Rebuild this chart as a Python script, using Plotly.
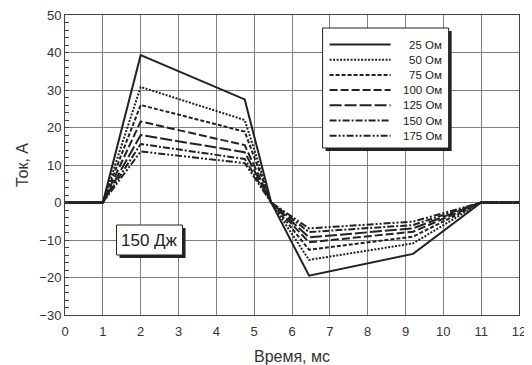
import plotly.graph_objects as go

time_ms = [0, 1, 2, 4.75, 5.45, 6.45, 9.2, 11, 12]
names = ["25 Ом", "50 Ом", "75 Ом", "100 Ом", "125 Ом", "150 Ом", "175 Ом"]
i25 = [0, 0, 39.3, 27.5, 0, -19.5, -13.7, 0, 0]
i50 = [0, 0, 30.8, 22.0, 0, -15.3, -10.9, 0, 0]
i75 = [0, 0, 26.0, 18.9, 0, -12.6, -9.1, 0, 0]
i100 = [0, 0, 21.6, 15.3, 0, -10.6, -7.8, 0, 0]
i125 = [0, 0, 18.0, 13.4, 0, -9.3, -6.9, 0, 0]
i150 = [0, 0, 15.6, 11.6, 0, -7.9, -6.0, 0, 0]
i175 = [0, 0, 13.6, 10.5, 0, -6.9, -5.1, 0, 0]
series = [i25, i50, i75, i100, i125, i150, i175]
x_ticks = list(range(0, 13))
y_ticks = list(range(-30, 51, 10))

dashes = ["solid", "2px,1.5px", "4px,2px", "8px,3px", "12px,3px",
          "7px,2px,2px,2px", "7px,2px,2px,2px,2px,2px"]
INK = "#222222"

fig = go.Figure()
for name, ys, d in zip(names, series, dashes):
    fig.add_trace(go.Scatter(x=time_ms, y=ys, mode="lines", name=name,
                             showlegend=False,
                             line=dict(color=INK, width=2, dash=d)))

# page-pixel -> data coordinate helpers (for decoration placement only)
def px2x(p):
    return (p - 65.5) / 37.82

def py2y(p):
    return 50 - (p - 15) / 3.75

shapes = []
annotations = []
# legend box with shadow
shapes.append(dict(type="rect", xref="x", yref="y",
                   x0=px2x(326), x1=px2x(452), y0=py2y(31), y1=py2y(151),
                   fillcolor=INK, line=dict(width=0), layer="above"))
shapes.append(dict(type="rect", xref="x", yref="y",
                   x0=px2x(323), x1=px2x(449), y0=py2y(28), y1=py2y(148),
                   fillcolor="white", line=dict(color=INK, width=1), layer="above"))
row_y = 44.5
for name, d in zip(names, dashes):
    shapes.append(dict(type="line", xref="x", yref="y",
                       x0=px2x(330), x1=px2x(391), y0=py2y(row_y), y1=py2y(row_y),
                       line=dict(color=INK, width=2, dash=d), layer="above"))
    annotations.append(dict(x=px2x(444), y=py2y(row_y), xref="x", yref="y",
                            text=name, showarrow=False, xanchor="right", yanchor="middle",
                            font=dict(size=11.5, color=INK)))
    row_y += 15.2
# label box with shadow
shapes.append(dict(type="rect", xref="x", yref="y",
                   x0=px2x(120), x1=px2x(186), y0=py2y(228), y1=py2y(258),
                   fillcolor=INK, line=dict(width=0), layer="above"))
shapes.append(dict(type="rect", xref="x", yref="y",
                   x0=px2x(117), x1=px2x(183), y0=py2y(225), y1=py2y(255),
                   fillcolor="white", line=dict(color=INK, width=1), layer="above"))
annotations.append(dict(x=px2x(150), y=py2y(240.5), xref="x", yref="y",
                        text="150 Дж", showarrow=False,
                        font=dict(size=17, color=INK)))

# body has an 8px default margin: the figure is offset by (8, 8) on the page
fig.update_layout(
    width=524, height=357,
    margin=dict(l=57, r=13, t=7, b=50, autoexpand=False),
    paper_bgcolor="white", plot_bgcolor="white",
    font=dict(family="Liberation Sans, Arial, sans-serif", size=13, color="#333333"),
    showlegend=False,
    shapes=shapes,
    annotations=annotations,
    xaxis=dict(range=[0, 12], tickvals=x_ticks, ticks="", showgrid=True,
               gridcolor="#808080", gridwidth=1, zeroline=False, automargin=False,
               ticklabeloverflow="allow", ticklabelstandoff=4,
               showline=True, linecolor="#444444", linewidth=1, mirror=True,
               title=dict(text="Время, мс", standoff=14),
               tickfont=dict(size=13)),
    yaxis=dict(range=[-30, 50], tickvals=y_ticks, showgrid=True, automargin=False,
               ticklabeloverflow="allow",
               gridcolor="#808080", gridwidth=1,
               zeroline=False,
               showline=True, linecolor="#444444", linewidth=1, mirror=True,
               ticks="inside", ticklen=4, tickcolor="#444444",
               minor=dict(dtick=2, ticks="inside", ticklen=4, tickcolor="#444444", showgrid=False),
               title=dict(text="Ток, А", standoff=6),
               tickfont=dict(size=13)),
)

fig.write_html("out.html")
